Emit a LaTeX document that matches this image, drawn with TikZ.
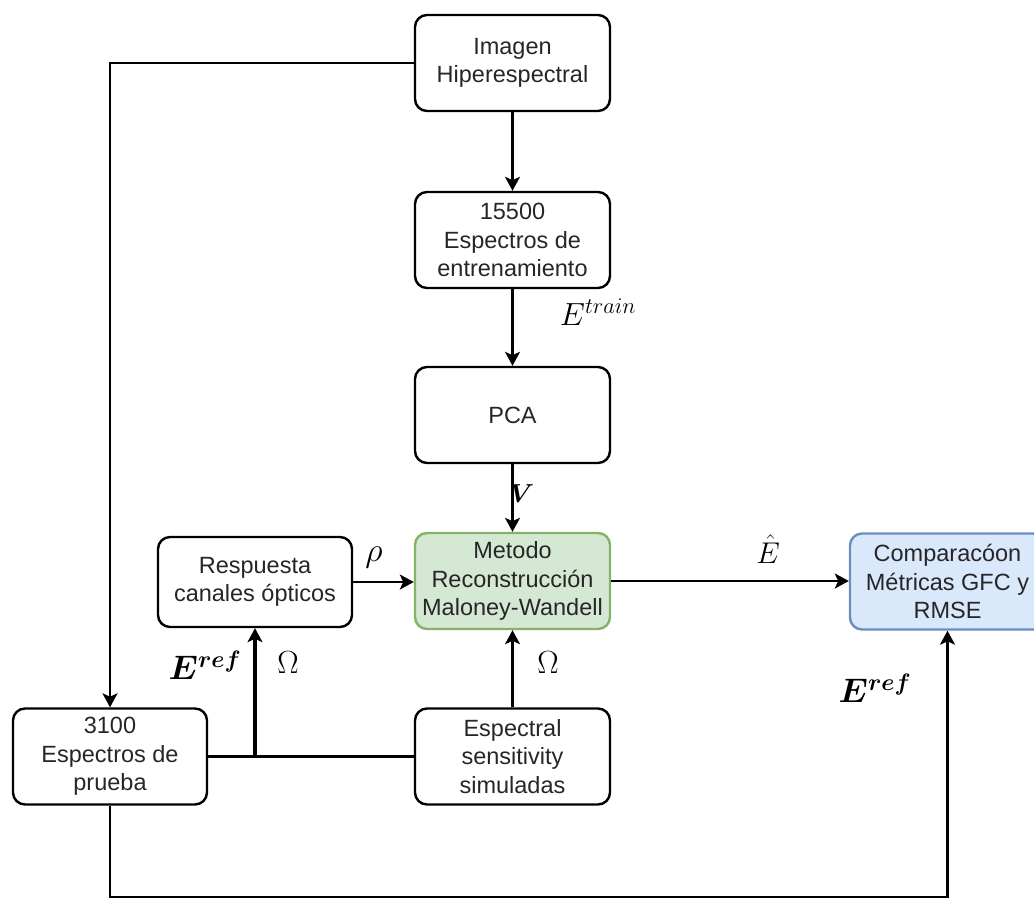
\RequirePackage{fix-cm}
\documentclass[tikz,border=0pt]{standalone}
\usepackage{amsmath}
\usepackage{bm}
\usepackage{fontspec}
\setmainfont{Liberation Sans}
\usetikzlibrary{arrows.meta}
\definecolor{greenfill}{HTML}{D5E8D4}
\definecolor{greenline}{HTML}{82B366}
\definecolor{bluefill}{HTML}{DAE8FC}
\definecolor{blueline}{HTML}{6C8EBF}
\definecolor{txt}{HTML}{262626}
\begin{document}
\begin{tikzpicture}[x=1pt,y=-1pt,
  box/.style={draw, line width=2.4pt, rounded corners=12pt, minimum width=195pt,
    minimum height=96pt, inner sep=0pt, align=center,
    font=\fontsize{23.5}{28.5}\selectfont, text=txt},
  conn/.style={line width=2.6pt, -{Stealth[length=14pt,width=15pt,inset=3.5pt]}},
  plain/.style={line width=2.6pt},
  lbl/.style={inner sep=0pt, font=\fontsize{32}{36}\selectfont}]
\clip (0,0) rectangle (1034,899);
\node[box] (img) at (512.5,63) {Imagen\\Hiperespectral};
\node[box] (train) at (512.5,240) {15500\\Espectros de\\entrenamiento};
\node[box] (pca) at (512.5,415) {PCA};
\node[box, fill=greenfill, draw=greenline] (mw) at (512.5,581) {Metodo\\Reconstrucción\\Maloney-Wandell};
\node[box, minimum width=194pt, minimum height=90pt] (resp) at (255,582) {Respuesta\\canales ópticos};
\node[box, minimum width=194pt] (test) at (110,756.5) {3100\\Espectros de\\prueba};
\node[box] (spec) at (512.5,756.5) {Espectral\\sensitivity\\simuladas};
\node[box, fill=bluefill, draw=blueline] (comp) at (947.5,581.5) {Comparacóon\\Métricas GFC y\\RMSE};

\coordinate (bot) at (110,897);
\draw[conn] (img) -- (train);
\draw[conn] (train) -- (pca);
\draw[conn] (pca) -- (mw);
\draw[conn] (resp.east) -- (resp.east -| mw.west);
\draw[conn] (mw.east) -- (mw.east -| comp.west);
\draw[conn] (spec) -- (mw);
\draw[conn] (img.west) -| (test.north);
\draw[plain] (test.east) -- (spec.west);
\draw[conn, line width=3.3pt] (test.east -| resp.south) -- (resp.south);
\draw[conn] (test.south) -- (bot) -| (comp.south);

\node[lbl] (etrain) at (598,312) {$E^{train}$};
\node[lbl, font=\fontsize{26}{30}\selectfont] (vlab) at (522,494) {$\bm{V}$};
\node[lbl, font=\fontsize{34}{38}\selectfont] (rho) at (374,557) {$\rho$};
\node[lbl, font=\fontsize{30}{34}\selectfont] (ehat) at (768,549) {$\hat{E}$};
\node[lbl] (om1) at (548,663) {$\Omega$};
\node[lbl] (om2) at (288,663) {$\Omega$};
\node[lbl, font=\fontsize{34}{38}\selectfont] (eref1) at (205,665) {$\bm{E}^{\bm{ref}}$};
\node[lbl, font=\fontsize{34}{38}\selectfont] (eref2) at (875,688) {$\bm{E}^{\bm{ref}}$};
\end{tikzpicture}
\end{document}
